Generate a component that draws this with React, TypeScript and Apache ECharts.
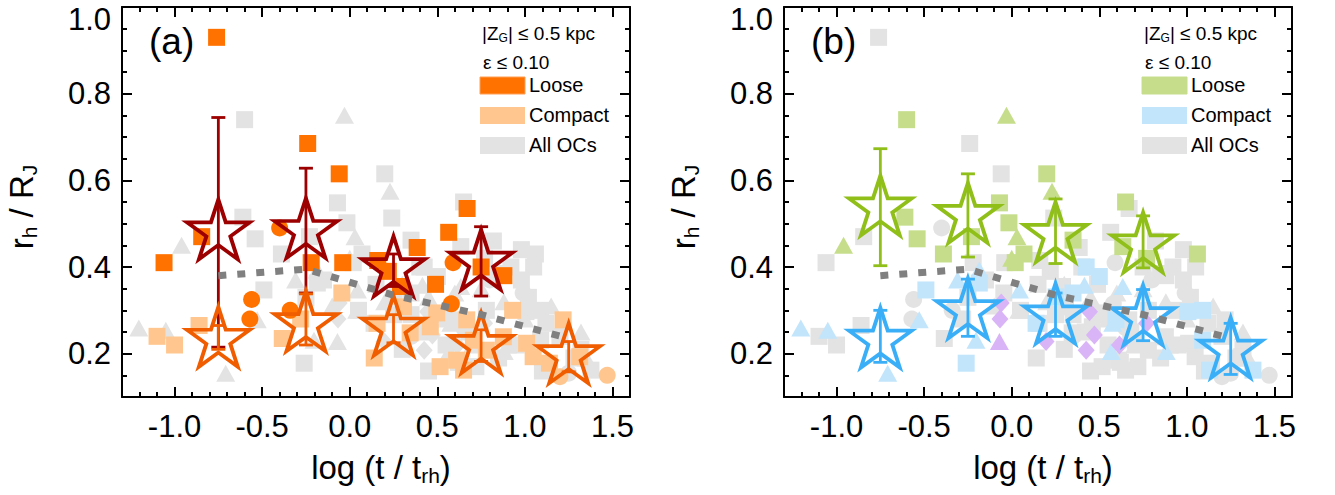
import React, { useEffect, useRef } from "react";
import * as echarts from "echarts";

const FONT = '"Liberation Sans", Arial, Helvetica, sans-serif';

// ---- axes ----
const X_MIN = -1.3;
const X_MAX = 1.6;
const X_MINOR = 0.1;
const Y_MIN = 0.1;
const Y_MAX = 1.0;
const Y_MINOR = 0.05;
const xMajorTicks = [-1.0, -0.5, 0.0, 0.5, 1.0, 1.5];
const yMajorTicks = [0.2, 0.4, 0.6, 0.8, 1.0];

// ---- clusters gray in both panels (All OCs) ----
const baseSquares = [
  [0.24, 0.513], [-0.25, 0.33], [0.05, 0.30], [0.35, 0.29], [0.42, 0.25], [0.55, 0.22],
  [0.68, 0.25], [0.78, 0.30], [0.85, 0.385], [0.92, 0.40], [0.98, 0.37], [0.72, 0.17],
  [0.85, 0.19], [0.95, 0.22], [1.02, 0.33], [1.12, 0.27], [1.2, 0.24], [1.28, 0.19],
  [1.1, 0.16], [0.62, 0.18], [0.3, 0.21], [0.15, 0.36], [-0.15, 0.37], [0.82, 0.46],
  [0.98, 0.44], [1.05, 0.40], [0.4, 0.40], [0.55, 0.29], [0.25, 0.29], [1.32, 0.21], [0.45, 0.16],
];
const baseTriangles = [
  [0.04, 0.30], [0.3, 0.36], [0.45, 0.33], [0.6, 0.34], [0.75, 0.35], [0.88, 0.32],
  [1.0, 0.28], [1.32, 0.25], [1.35, 0.19], [0.9, 0.22], [0.7, 0.22], [0.55, 0.28],
  [1.15, 0.31], [0.2, 0.32], [-0.1, 0.31],
];
const baseCircles = [[0.99, 0.34], [0.8, 0.37], [1.25, 0.155], [0.65, 0.26], [0.35, 0.24]];

// ---- panel (a): loose / compact ----
const looseSquaresA = [
  [-0.76, 0.93], [-0.24, 0.685], [-0.06, 0.615], [0.67, 0.535], [0.565, 0.48], [0.385, 0.445],
  [-0.845, 0.47], [-1.06, 0.41], [-0.22, 0.41], [-0.04, 0.41], [0.16, 0.415], [0.29, 0.355],
  [0.49, 0.36], [0.75, 0.40], [0.88, 0.38], [0.22, 0.39],
];
const looseCirclesA = [[-0.40, 0.49], [-0.56, 0.325], [-0.57, 0.28], [-0.34, 0.30], [0.59, 0.41], [0.58, 0.315]];
const compactSquaresA = [
  [-1.10, 0.24], [-1.0, 0.22], [-0.86, 0.265], [-0.385, 0.235], [-0.28, 0.28], [-0.045, 0.34],
  [0.14, 0.19], [0.156, 0.27], [0.307, 0.308], [0.345, 0.248], [0.46, 0.262], [0.497, 0.294],
  [0.516, 0.17], [0.61, 0.185], [0.668, 0.278], [0.78, 0.208], [0.877, 0.239], [0.93, 0.30],
  [1.01, 0.224], [1.047, 0.193], [1.218, 0.278], [1.313, 0.193], [1.14, 0.178], [0.706, 0.231], [0.65, 0.162],
];
const compactCirclesA = [[1.47, 0.15], [1.2, 0.147]];

// ---- panel (b): loose / compact / diamonds ----
const looseSquaresB = [
  [-0.60, 0.74], [0.20, 0.615], [0.65, 0.55], [-0.61, 0.515], [-0.54, 0.465], [-0.07, 0.548],
  [-0.016, 0.502], [-0.23, 0.47], [0.35, 0.462], [1.06, 0.43], [0.07, 0.43], [-0.39, 0.43],
  [0.634, 0.447], [0.77, 0.42], [0.02, 0.41],
];
const looseTrianglesB = [[-0.96, 0.45], [-0.03, 0.75], [0.23, 0.575], [0.03, 0.47], [0.0, 0.42]];
const compactSquaresB = [
  [-0.49, 0.347], [-0.26, 0.178], [-0.185, 0.363], [0.139, 0.27], [0.253, 0.331], [0.425, 0.40],
  [0.5, 0.378], [0.596, 0.278], [1.006, 0.297], [1.09, 0.30], [1.09, 0.231], [1.13, 0.162],
  [1.377, 0.162], [0.35, 0.34],
];
const compactTrianglesB = [
  [-1.204, 0.259], [-1.05, 0.254], [-0.708, 0.155], [-0.528, 0.278], [-0.309, 0.37], [-0.204, 0.231],
  [-0.185, 0.393], [0.415, 0.358], [0.577, 0.27], [0.568, 0.205], [0.634, 0.355], [0.882, 0.205], [0.044, 0.347],
];
const purpleDiamondsB = [
  [-0.06, 0.317], [-0.067, 0.28], [0.196, 0.228], [0.425, 0.208], [0.472, 0.243], [0.615, 0.22],
  [0.444, 0.297], [0.77, 0.27],
];
const purpleTrianglesB = [[-0.07, 0.228]];

// ---- binned medians (stars) and error bars [x, low, high] ----
const starsLooseA = [[-0.75, 0.48], [-0.25, 0.483], [0.25, 0.395], [0.75, 0.41]];
const errLooseA = [[-0.75, 0.215, 0.745], [-0.25, 0.34, 0.628], [0.25, 0.355, 0.43], [0.75, 0.333, 0.493]];
const starsCompactA = [[-0.75, 0.232], [-0.25, 0.268], [0.25, 0.258], [0.75, 0.218], [1.25, 0.194]];
const errCompactA = [[-0.75, 0.21, 0.265], [-0.25, 0.22, 0.338], [0.25, 0.225, 0.29], [0.75, 0.182, 0.255], [1.25, 0.158, 0.228]];
const starsLooseB = [[-0.75, 0.535], [-0.25, 0.518], [0.25, 0.474], [0.75, 0.45]];
const errLooseB = [[-0.75, 0.403, 0.673], [-0.25, 0.423, 0.615], [0.25, 0.408, 0.557], [0.75, 0.398, 0.518]];
const starsCompactB = [[-0.75, 0.23], [-0.25, 0.298], [0.25, 0.286], [0.75, 0.282], [1.25, 0.207]];
const errCompactB = [[-0.75, 0.18, 0.3], [-0.25, 0.24, 0.372], [0.25, 0.24, 0.34], [0.75, 0.23, 0.348], [1.25, 0.152, 0.27]];

// all-OC trend (dotted)
const trendAll = [[-0.75, 0.38], [-0.25, 0.395], [0.25, 0.335], [0.75, 0.29], [1.25, 0.235]];

// ---- colours ----
const GRAY = "#e3e3e3";
const C_LOOSE_A = "#ff7200";
const C_COMPACT_A = "#ffc78f";
const C_STAR_LOOSE_A = "#9c0000";
const C_STAR_COMPACT_A = "#f05c00";
const C_LOOSE_B = "#c6de8c";
const C_COMPACT_B = "#c2e5fb";
const C_STAR_LOOSE_B = "#90bf1a";
const C_STAR_COMPACT_B = "#3aaff7";
const C_PURPLE = "#d9b4f6";
const C_TREND = "#808080";

// star outline drawn at its final pixel size so the stroke is not rescaled
const STAR_R = 33;
function starSymbol() {
  const R = STAR_R;
  const r = R * 0.382;
  const pts: string[] = [];
  for (let i = 0; i < 10; i++) {
    const a = (-90 + i * 36) * Math.PI / 180;
    const rad = i % 2 === 0 ? R : r;
    pts.push((R + rad * Math.cos(a)).toFixed(3) + " " + (R + rad * Math.sin(a)).toFixed(3));
  }
  return "path://M" + pts.join(" L") + " Z";
}
const STAR = starSymbol();
const STAR_W = 2 * STAR_R * Math.sin((72 * Math.PI) / 180);
const STAR_H = STAR_R * (1 + Math.cos((36 * Math.PI) / 180));

function buildAxes(g: number) {
  const line = { show: true, onZero: false, lineStyle: { color: "#000", width: 2 } };
  const tickStyle = { color: "#000", width: 2 };
  const xs: any[] = [];
  const ys: any[] = [];
  (["bottom", "top"] as const).forEach((pos) => {
    xs.push({
      type: "value", gridIndex: g, min: X_MIN, max: X_MAX, position: pos,
      axisLine: line,
      axisTick: { show: true, inside: true, length: 10, lineStyle: tickStyle, customValues: xMajorTicks },
      axisLabel: {
        show: pos === "bottom", customValues: xMajorTicks,
        formatter: (v: number) => v.toFixed(1),
        fontSize: 31, color: "#000", fontFamily: FONT, margin: 14,
      },
      splitLine: { show: false },
    });
    xs.push({
      type: "value", gridIndex: g, min: X_MIN, max: X_MAX, interval: X_MINOR, position: pos,
      axisLine: { show: false, onZero: false },
      axisTick: { show: true, inside: true, length: 5, lineStyle: tickStyle },
      axisLabel: { show: false },
      splitLine: { show: false },
    });
  });
  (["left", "right"] as const).forEach((pos) => {
    ys.push({
      type: "value", gridIndex: g, min: Y_MIN, max: Y_MAX, position: pos,
      axisLine: line,
      axisTick: { show: true, inside: true, length: 10, lineStyle: tickStyle, customValues: yMajorTicks },
      axisLabel: {
        show: pos === "left", customValues: yMajorTicks,
        formatter: (v: number) => (Math.abs(v - 1) < 1e-6 ? "{t|1.0}" : v.toFixed(1)),
        rich: { t: { fontSize: 31, fontFamily: FONT, color: "#000", padding: [24, 0, 0, 0] } },
        fontSize: 31, color: "#000", fontFamily: FONT, margin: 11,
      },
      splitLine: { show: false },
    });
    ys.push({
      type: "value", gridIndex: g, min: Y_MIN, max: Y_MAX, interval: Y_MINOR, position: pos,
      axisLine: { show: false, onZero: false },
      axisTick: { show: true, inside: true, length: 5, lineStyle: tickStyle },
      axisLabel: { show: false },
      splitLine: { show: false },
    });
  });
  return { xs, ys };
}

function scatter(data: number[][], symbol: string, size: any, color: string, g: number, z = 2) {
  return {
    type: "scatter", xAxisIndex: g * 4, yAxisIndex: g * 4, data, symbol, symbolSize: size,
    itemStyle: { color, opacity: 1 }, z, silent: true,
  };
}

function stars(data: number[][], color: string, g: number) {
  return {
    type: "scatter", xAxisIndex: g * 4, yAxisIndex: g * 4, data, symbol: STAR,
    symbolSize: [STAR_W, STAR_H], symbolOffset: [0, -3],
    itemStyle: { color: "rgba(0,0,0,0)", borderColor: color, borderWidth: 3.8, opacity: 1 },
    z: 6, silent: true,
  };
}

function errorBars(data: number[][], color: string, g: number) {
  return {
    type: "custom", xAxisIndex: g * 4, yAxisIndex: g * 4, data, z: 5, silent: true,
    renderItem: (_p: any, api: any) => {
      const x = api.value(0);
      const lo = api.coord([x, api.value(1)]);
      const hi = api.coord([x, api.value(2)]);
      const w = 7;
      const st = { stroke: color, lineWidth: 2.8 };
      return {
        type: "group",
        children: [
          { type: "line", shape: { x1: lo[0], y1: lo[1], x2: hi[0], y2: hi[1] }, style: st },
          { type: "line", shape: { x1: lo[0] - w, y1: lo[1], x2: lo[0] + w, y2: lo[1] }, style: st },
          { type: "line", shape: { x1: hi[0] - w, y1: hi[1], x2: hi[0] + w, y2: hi[1] }, style: st },
        ],
      };
    },
  };
}

function trend(g: number) {
  return {
    type: "line", xAxisIndex: g * 4, yAxisIndex: g * 4, data: trendAll, symbol: "none",
    lineStyle: { color: C_TREND, width: 7, type: [8, 11], cap: "butt", opacity: 1 }, z: 7, silent: true,
  };
}

const SQ = 17;
const TRI = [19, 17];
const CI = 17;
const DIA = [17, 19];

function panelTexts(ox: number, label: string, cLoose: string, cCompact: string, looseBorder: string) {
  const txt = (x: number, y: number, text: string, size: number, rich?: any) => ({
    type: "text", x, y,
    style: { text, fontSize: size, fontFamily: FONT, fill: "#000", align: "left", verticalAlign: "middle", rich },
  });
  const subRich = {
    a: { fontSize: 19, fontFamily: FONT, fill: "#000", lineHeight: 22 },
    s: { fontSize: 12, fontFamily: FONT, fill: "#000", lineHeight: 6, verticalAlign: "bottom" },
  };
  const titleRich = {
    a: { fontSize: 33, fontFamily: FONT, fill: "#000", lineHeight: 38 },
    s: { fontSize: 21, fontFamily: FONT, fill: "#000", lineHeight: 8, verticalAlign: "bottom" },
  };
  return [
    txt(ox + 149, 41, label, 37),
    txt(ox + 482, 33, "{a||Z}{s|G}{a|| ≤ 0.5 kpc}", 19, subRich),
    txt(ox + 483, 62, "ε ≤ 0.10", 19),
    { type: "rect", shape: { x: ox + 480, y: 77, width: 45, height: 17 }, style: { fill: cLoose, stroke: looseBorder, lineWidth: 1 } },
    { type: "rect", shape: { x: ox + 480, y: 107, width: 45, height: 17 }, style: { fill: cCompact } },
    { type: "rect", shape: { x: ox + 480, y: 137, width: 45, height: 17 }, style: { fill: GRAY } },
    txt(ox + 529, 85, "Loose", 20),
    txt(ox + 529, 115, "Compact", 20),
    txt(ox + 529, 145, "All OCs", 20),
    {
      type: "text", x: ox + 381, y: 467,
      style: { text: "{a|log (t / t}{s|rh}{a|)}", align: "center", verticalAlign: "middle", rich: titleRich },
    },
    {
      type: "text", x: ox + 21, y: 207, rotation: Math.PI / 2,
      style: { text: "{a|r}{s|h}{a| / R}{s|J}", align: "center", verticalAlign: "middle", rich: titleRich },
    },
  ];
}

export default function App() {
  const ref = useRef<HTMLDivElement>(null);
  useEffect(() => {
    if (!ref.current) return;
    const chart = echarts.init(ref.current, null, { renderer: "svg" });
    const a = buildAxes(0);
    const b = buildAxes(1);
    const series: any[] = [
      // panel (a): gray
      scatter([...baseSquares, ...looseSquaresB, ...compactSquaresB], "rect", SQ, GRAY, 0),
      scatter([...baseTriangles, ...looseTrianglesB, ...compactTrianglesB, ...purpleTrianglesB], "triangle", TRI, GRAY, 0),
      scatter(baseCircles, "circle", CI, GRAY, 0),
      scatter(purpleDiamondsB, "diamond", DIA, GRAY, 0),
      // panel (a): coloured
      scatter(compactSquaresA, "rect", SQ, C_COMPACT_A, 0, 3),
      scatter(compactCirclesA, "circle", CI, C_COMPACT_A, 0, 3),
      scatter(looseSquaresA, "rect", SQ, C_LOOSE_A, 0, 4),
      scatter(looseCirclesA, "circle", CI, C_LOOSE_A, 0, 4),
      errorBars(errLooseA, C_STAR_LOOSE_A, 0),
      errorBars(errCompactA, C_STAR_COMPACT_A, 0),
      stars(starsLooseA, C_STAR_LOOSE_A, 0),
      stars(starsCompactA, C_STAR_COMPACT_A, 0),
      trend(0),
      // panel (b): gray
      scatter([...baseSquares, ...looseSquaresA, ...compactSquaresA], "rect", SQ, GRAY, 1),
      scatter(baseTriangles, "triangle", TRI, GRAY, 1),
      scatter([...baseCircles, ...looseCirclesA, ...compactCirclesA], "circle", CI, GRAY, 1),
      // panel (b): coloured
      scatter(compactSquaresB, "rect", SQ, C_COMPACT_B, 1, 3),
      scatter(compactTrianglesB, "triangle", TRI, C_COMPACT_B, 1, 3),
      scatter(looseSquaresB, "rect", SQ, C_LOOSE_B, 1, 4),
      scatter(looseTrianglesB, "triangle", TRI, C_LOOSE_B, 1, 4),
      scatter(purpleDiamondsB, "diamond", DIA, C_PURPLE, 1, 4),
      scatter(purpleTrianglesB, "triangle", TRI, C_PURPLE, 1, 4),
      errorBars(errLooseB, C_STAR_LOOSE_B, 1),
      errorBars(errCompactB, C_STAR_COMPACT_B, 1),
      stars(starsLooseB, C_STAR_LOOSE_B, 1),
      stars(starsCompactB, C_STAR_COMPACT_B, 1),
      trend(1),
    ];
    chart.setOption({
      animation: false,
      backgroundColor: "#fff",
      grid: [
        { left: 122, top: 7, width: 508, height: 390, outerBoundsMode: "none", containLabel: false },
        { left: 784, top: 7, width: 508, height: 390, outerBoundsMode: "none", containLabel: false },
      ],
      xAxis: [...a.xs, ...b.xs],
      yAxis: [...a.ys, ...b.ys],
      series,
      graphic: [
        ...panelTexts(0, "(a)", C_LOOSE_A, C_COMPACT_A, "#ff9e55"),
        ...panelTexts(662, "(b)", C_LOOSE_B, C_COMPACT_B, C_LOOSE_B),
      ],
    });
    return () => chart.dispose();
  }, []);
  return (
    <div
      ref={ref}
      style={{ position: "absolute", left: 0, top: 0, width: 1335, height: 495, background: "#fff" }}
    />
  );
}
